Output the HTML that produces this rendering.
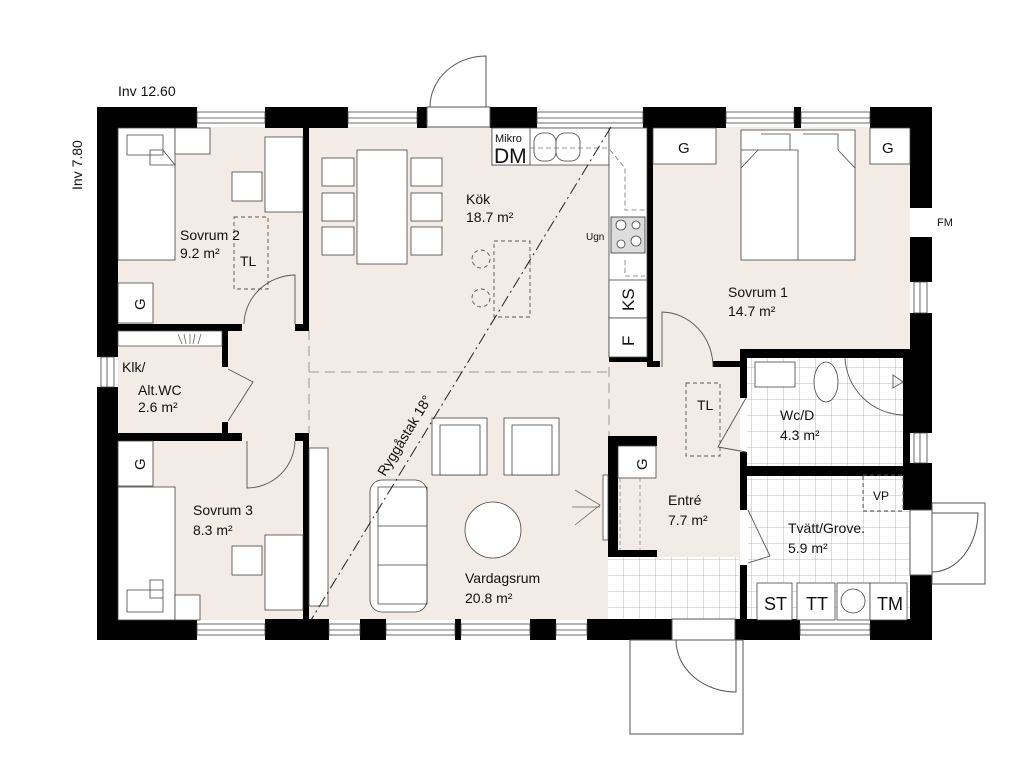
<!DOCTYPE html>
<html><head><meta charset="utf-8"><style>
html,body{margin:0;padding:0;background:#fff;}
svg{display:block}
text{font-family:"Liberation Sans Narrow","Liberation Sans",sans-serif;fill:#111}
</style></head><body>
<svg width="1024" height="768" viewBox="0 0 1024 768" xmlns="http://www.w3.org/2000/svg">
<defs>
<pattern id="tile" x="0" y="0" width="16" height="16" patternUnits="userSpaceOnUse">
<rect width="16" height="16" fill="#fff"/><path d="M16 0V16M0 16H16" stroke="#aaa" stroke-width="0.8"/>
</pattern>
</defs>
<rect x="118" y="127" width="792" height="493" fill="#f3ebe5"/>
<rect x="746" y="358" width="160" height="108" fill="url(#tile)"/>
<rect x="746" y="476" width="164" height="144" fill="url(#tile)"/>
<rect x="608" y="557" width="131" height="63" fill="url(#tile)"/>
<g stroke="#999" stroke-width="1" stroke-dasharray="10,6" fill="none">
<path d="M309 372H609"/><path d="M609 367V557"/><path d="M309 330V433"/>
</g>
<g fill="#000">
<rect x="97" y="107" width="100" height="21"/>
<rect x="265" y="107" width="83" height="21"/>
<rect x="417" y="107" width="10" height="21"/>
<rect x="490" y="107" width="47" height="21"/>
<rect x="643" y="107" width="83" height="21"/>
<rect x="794" y="107" width="7" height="21"/>
<rect x="870" y="107" width="62" height="21"/>
<rect x="97" y="107" width="21" height="250"/>
<rect x="97" y="387" width="21" height="253"/>
<rect x="910" y="107" width="22" height="101"/>
<rect x="910" y="237" width="22" height="45"/>
<rect x="910" y="313" width="22" height="120"/>
<rect x="903" y="463" width="29" height="47"/>
<rect x="910" y="575" width="22" height="65"/>
<rect x="97" y="619" width="100" height="21"/>
<rect x="265" y="619" width="64" height="21"/>
<rect x="360" y="619" width="26" height="21"/>
<rect x="455" y="619" width="6" height="21"/>
<rect x="530" y="619" width="26" height="21"/>
<rect x="587" y="619" width="85" height="21"/>
<rect x="735" y="619" width="65" height="21"/>
<rect x="870" y="619" width="62" height="21"/>
</g>
<rect x="912" y="208" width="4" height="29" fill="#fff"/>
<g fill="#fff" stroke="#444" stroke-width="0.8">
<rect x="197" y="112" width="68" height="11"/><rect x="348" y="112" width="69" height="11"/>
<rect x="537" y="112" width="106" height="11"/><rect x="726" y="112" width="68" height="11"/><rect x="801" y="112" width="69" height="11"/>
<rect x="197" y="624" width="68" height="11"/><rect x="329" y="624" width="31" height="11"/><rect x="386" y="624" width="69" height="11"/>
<rect x="461" y="624" width="69" height="11"/><rect x="556" y="624" width="31" height="11"/><rect x="800" y="624" width="70" height="11"/>
<rect x="101" y="357" width="13" height="30"/><rect x="914" y="282" width="13" height="31"/><rect x="914" y="433" width="13" height="30"/>
</g>
<g stroke="#444" stroke-width="0.8">
<path d="M197 118H265M348 118H417M537 118H643M726 118H794M801 118H870M197 630H265M329 630H360M386 630H455M461 630H530M556 630H587M800 630H870M107 357V387M920 282V313M920 433V463"/>
</g>
<g fill="none" stroke="#555" stroke-width="1">
<rect x="427" y="107" width="63" height="20" fill="#fff"/>
<path d="M486 107V56 A56 51 0 0 0 430 107"/>
<rect x="630" y="640" width="113" height="94"/>
<rect x="672" y="619" width="63" height="21" fill="#fff"/>
<path d="M676 640 A60 52 0 0 0 736 692V640"/>
<rect x="932" y="503" width="53" height="81"/>
<rect x="910" y="510" width="22" height="65" fill="#fff"/>
<path d="M932 513H978 A46 60 0 0 1 932 572"/>
</g>
<g fill="#000">
<rect x="303" y="127" width="6" height="203"/>
<rect x="118" y="324" width="124" height="7"/><rect x="295" y="324" width="14" height="7"/>
<rect x="222" y="324" width="6" height="43"/><rect x="222" y="422" width="6" height="19"/>
<rect x="118" y="433" width="124" height="8"/><rect x="295" y="433" width="14" height="8"/>
<rect x="303" y="433" width="6" height="187"/>
<rect x="647" y="127" width="6" height="240"/>
<rect x="609" y="357" width="44" height="5"/>
<rect x="647" y="361" width="13" height="6"/><rect x="713" y="361" width="27" height="6"/>
<rect x="740" y="349" width="170" height="9"/>
<rect x="740" y="349" width="7" height="49"/><rect x="740" y="452" width="7" height="168"/>
<rect x="903" y="349" width="7" height="117"/>
<rect x="740" y="466" width="170" height="10"/>
<rect x="608" y="436" width="49" height="10"/><rect x="608" y="436" width="10" height="121"/><rect x="608" y="550" width="49" height="7"/>
</g>
<rect x="740" y="398" width="7" height="54" fill="#fff"/>
<rect x="740" y="510" width="8" height="55" fill="#fff"/>
<!-- Klk shelf -->
<rect x="118" y="331" width="104" height="15" fill="#fff" stroke="#555" stroke-width="0.8"/>
<path d="M178 334L182 344M184 334L186 344M190 334V344M195 334L193 344M201 334L198 344" stroke="#666" stroke-width="0.8"/>
<g fill="none" stroke="#555" stroke-width="0.9">
<path d="M295 324V275 A52 50 0 0 0 244 324"/>
<path d="M247 441V488 A48 48 0 0 0 295 441"/>
<path d="M228 369L253 382L228 421"/>
<path d="M662 367V312 A52 55 0 0 1 713 367"/>
<path d="M746 398L718 447L746 452"/>
<path d="M748 510L770 556L748 563"/>
<path d="M845 358 A60 60 0 0 0 903 415"/>
<path d="M893 375L903 382L893 388Z"/>
</g>
<g fill="#fff" stroke="#444" stroke-width="0.8">
<rect x="492" y="128" width="117" height="37"/>
<rect x="609" y="128" width="38" height="229"/>
<rect x="492" y="128" width="38" height="37"/>
<rect x="534" y="133" width="22" height="28" rx="9"/><rect x="556" y="133" width="24" height="28" rx="9"/>
<rect x="611" y="217" width="34" height="36" fill="#ddd" stroke="#333"/>
<circle cx="621" cy="225" r="5"/><circle cx="636" cy="225" r="4"/><circle cx="621" cy="244" r="4"/><circle cx="636" cy="241" r="5"/>
<rect x="609" y="280" width="38" height="38"/><rect x="609" y="318" width="38" height="39"/>
</g>
<g fill="none" stroke="#777" stroke-width="0.8" stroke-dasharray="5,3">
<path d="M530 148H607M610 150L625 168V210H645M625 260V276H645"/>
</g>
<text x="495" y="142" font-size="11">Mikro</text>
<text x="494" y="163" font-size="21">DM</text>
<text x="586" y="240" font-size="10">Ugn</text>
<text font-size="17" transform="translate(634,311) rotate(-90)">KS</text>
<text font-size="17" transform="translate(634,346) rotate(-90)">F</text>
<g fill="#fff" stroke="#444" stroke-width="0.8">
<rect x="357" y="150" width="50" height="114"/>
<rect x="322" y="158" width="32" height="28"/><rect x="322" y="193" width="32" height="28"/><rect x="322" y="227" width="32" height="28"/>
<rect x="411" y="158" width="31" height="28"/><rect x="411" y="193" width="31" height="28"/><rect x="411" y="227" width="31" height="28"/>
</g>
<g fill="none" stroke="#555" stroke-width="0.9" stroke-dasharray="4,3">
<rect x="494" y="241" width="36" height="76"/><circle cx="481" cy="259" r="9"/><circle cx="481" cy="298" r="9"/>
<rect x="234" y="217" width="34" height="72"/>
<rect x="686" y="383" width="34" height="73"/>
<rect x="863" y="475" width="40" height="36"/>
</g>
<g fill="#fff" stroke="#444" stroke-width="0.8">
<rect x="118" y="128" width="57" height="132"/>
<path d="M127 135H163V155H127Z M150 150H163L175 165H150Z"/>
<rect x="175" y="128" width="35" height="26"/>
<rect x="265" y="137" width="38" height="75"/>
<rect x="232" y="172" width="30" height="29"/>
<rect x="118" y="283" width="35" height="40"/>
<rect x="118" y="441" width="35" height="45"/>
<rect x="118" y="487" width="57" height="133"/>
<path d="M127 590H163V612H127Z M150 580H163V598H150Z"/>
<rect x="175" y="595" width="25" height="25"/>
<rect x="265" y="535" width="38" height="75"/>
<rect x="232" y="546" width="30" height="29"/>
<rect x="309" y="448" width="19" height="158"/>
<rect x="370" y="480" width="57" height="132" rx="12"/>
<path d="M378 487H427V604H378Z M378 526H427M378 565H427" fill="none"/>
<rect x="432" y="418" width="55" height="57"/><rect x="440" y="425" width="40" height="50"/>
<rect x="504" y="418" width="55" height="57"/><rect x="512" y="425" width="40" height="50"/>
<circle cx="493" cy="530" r="28"/>
<rect x="603" y="475" width="5" height="65"/>
<rect x="618" y="446" width="38" height="32"/>
<rect x="653" y="128" width="63" height="36"/><rect x="870" y="128" width="40" height="36"/>
<rect x="741" y="130" width="114" height="130"/>
<path d="M798 150V260M741 150H775L798 150M761 134H790V150M803 134H838V150M741 168L758 150M855 168L838 150"/>
<rect x="755" y="362" width="40" height="25"/>
<ellipse cx="826" cy="382" rx="12" ry="20"/>
<rect x="757" y="583" width="35" height="37"/><rect x="797" y="583" width="38" height="37"/>
<rect x="837" y="583" width="33" height="37"/><rect x="870" y="583" width="37" height="37"/>
<circle cx="853" cy="601" r="12"/>
</g>
<path d="M575 490L600 505L575 525M572 507H600" fill="none" stroke="#666" stroke-width="0.8"/>
<path d="M620 478V550M640 478V550" fill="none" stroke="#888" stroke-width="0.8" stroke-dasharray="4,3"/>
<path d="M611 127L311 620" stroke="#222" stroke-width="1" stroke-dasharray="12,4,2,4" fill="none"/>
<text font-size="14" transform="translate(385,477) rotate(-58.7)">Ryggåstak 18°</text>
<g font-size="15">
<text transform="translate(145,310) rotate(-90)">G</text>
<text transform="translate(145,470) rotate(-90)">G</text>
<text transform="translate(647,470) rotate(-90)">G</text>
<text x="678" y="153">G</text><text x="882" y="153">G</text>
</g>
<g font-size="14">
<text x="180" y="240">Sovrum 2</text><text x="180" y="258">9.2 m²</text>
<text x="240" y="266">TL</text>
<text x="466" y="204">Kök</text><text x="466" y="222">18.7 m²</text>
<text x="728" y="297">Sovrum 1</text><text x="728" y="316">14.7 m²</text>
<text x="122" y="372">Klk/</text><text x="138" y="395">Alt.WC</text><text x="138" y="412">2.6 m²</text>
<text x="697" y="410">TL</text>
<text x="780" y="420">Wc/D</text><text x="780" y="440">4.3 m²</text>
<text x="193" y="515">Sovrum 3</text><text x="193" y="535">8.3 m²</text>
<text x="668" y="505">Entré</text><text x="668" y="525">7.7 m²</text>
<text x="788" y="533">Tvätt/Grove.</text><text x="788" y="553">5.9 m²</text>
<text x="465" y="583">Vardagsrum</text><text x="465" y="603">20.8 m²</text>
<text x="118" y="96">Inv  12.60</text>
<text transform="translate(82,190) rotate(-90)">Inv  7.80</text>
</g>
<text x="873" y="500" font-size="12">VP</text>
<text x="937" y="226" font-size="11">FM</text>
<g font-size="18"><text x="764" y="610">ST</text><text x="806" y="610">TT</text><text x="877" y="610">TM</text></g>
</svg>
</body></html>
